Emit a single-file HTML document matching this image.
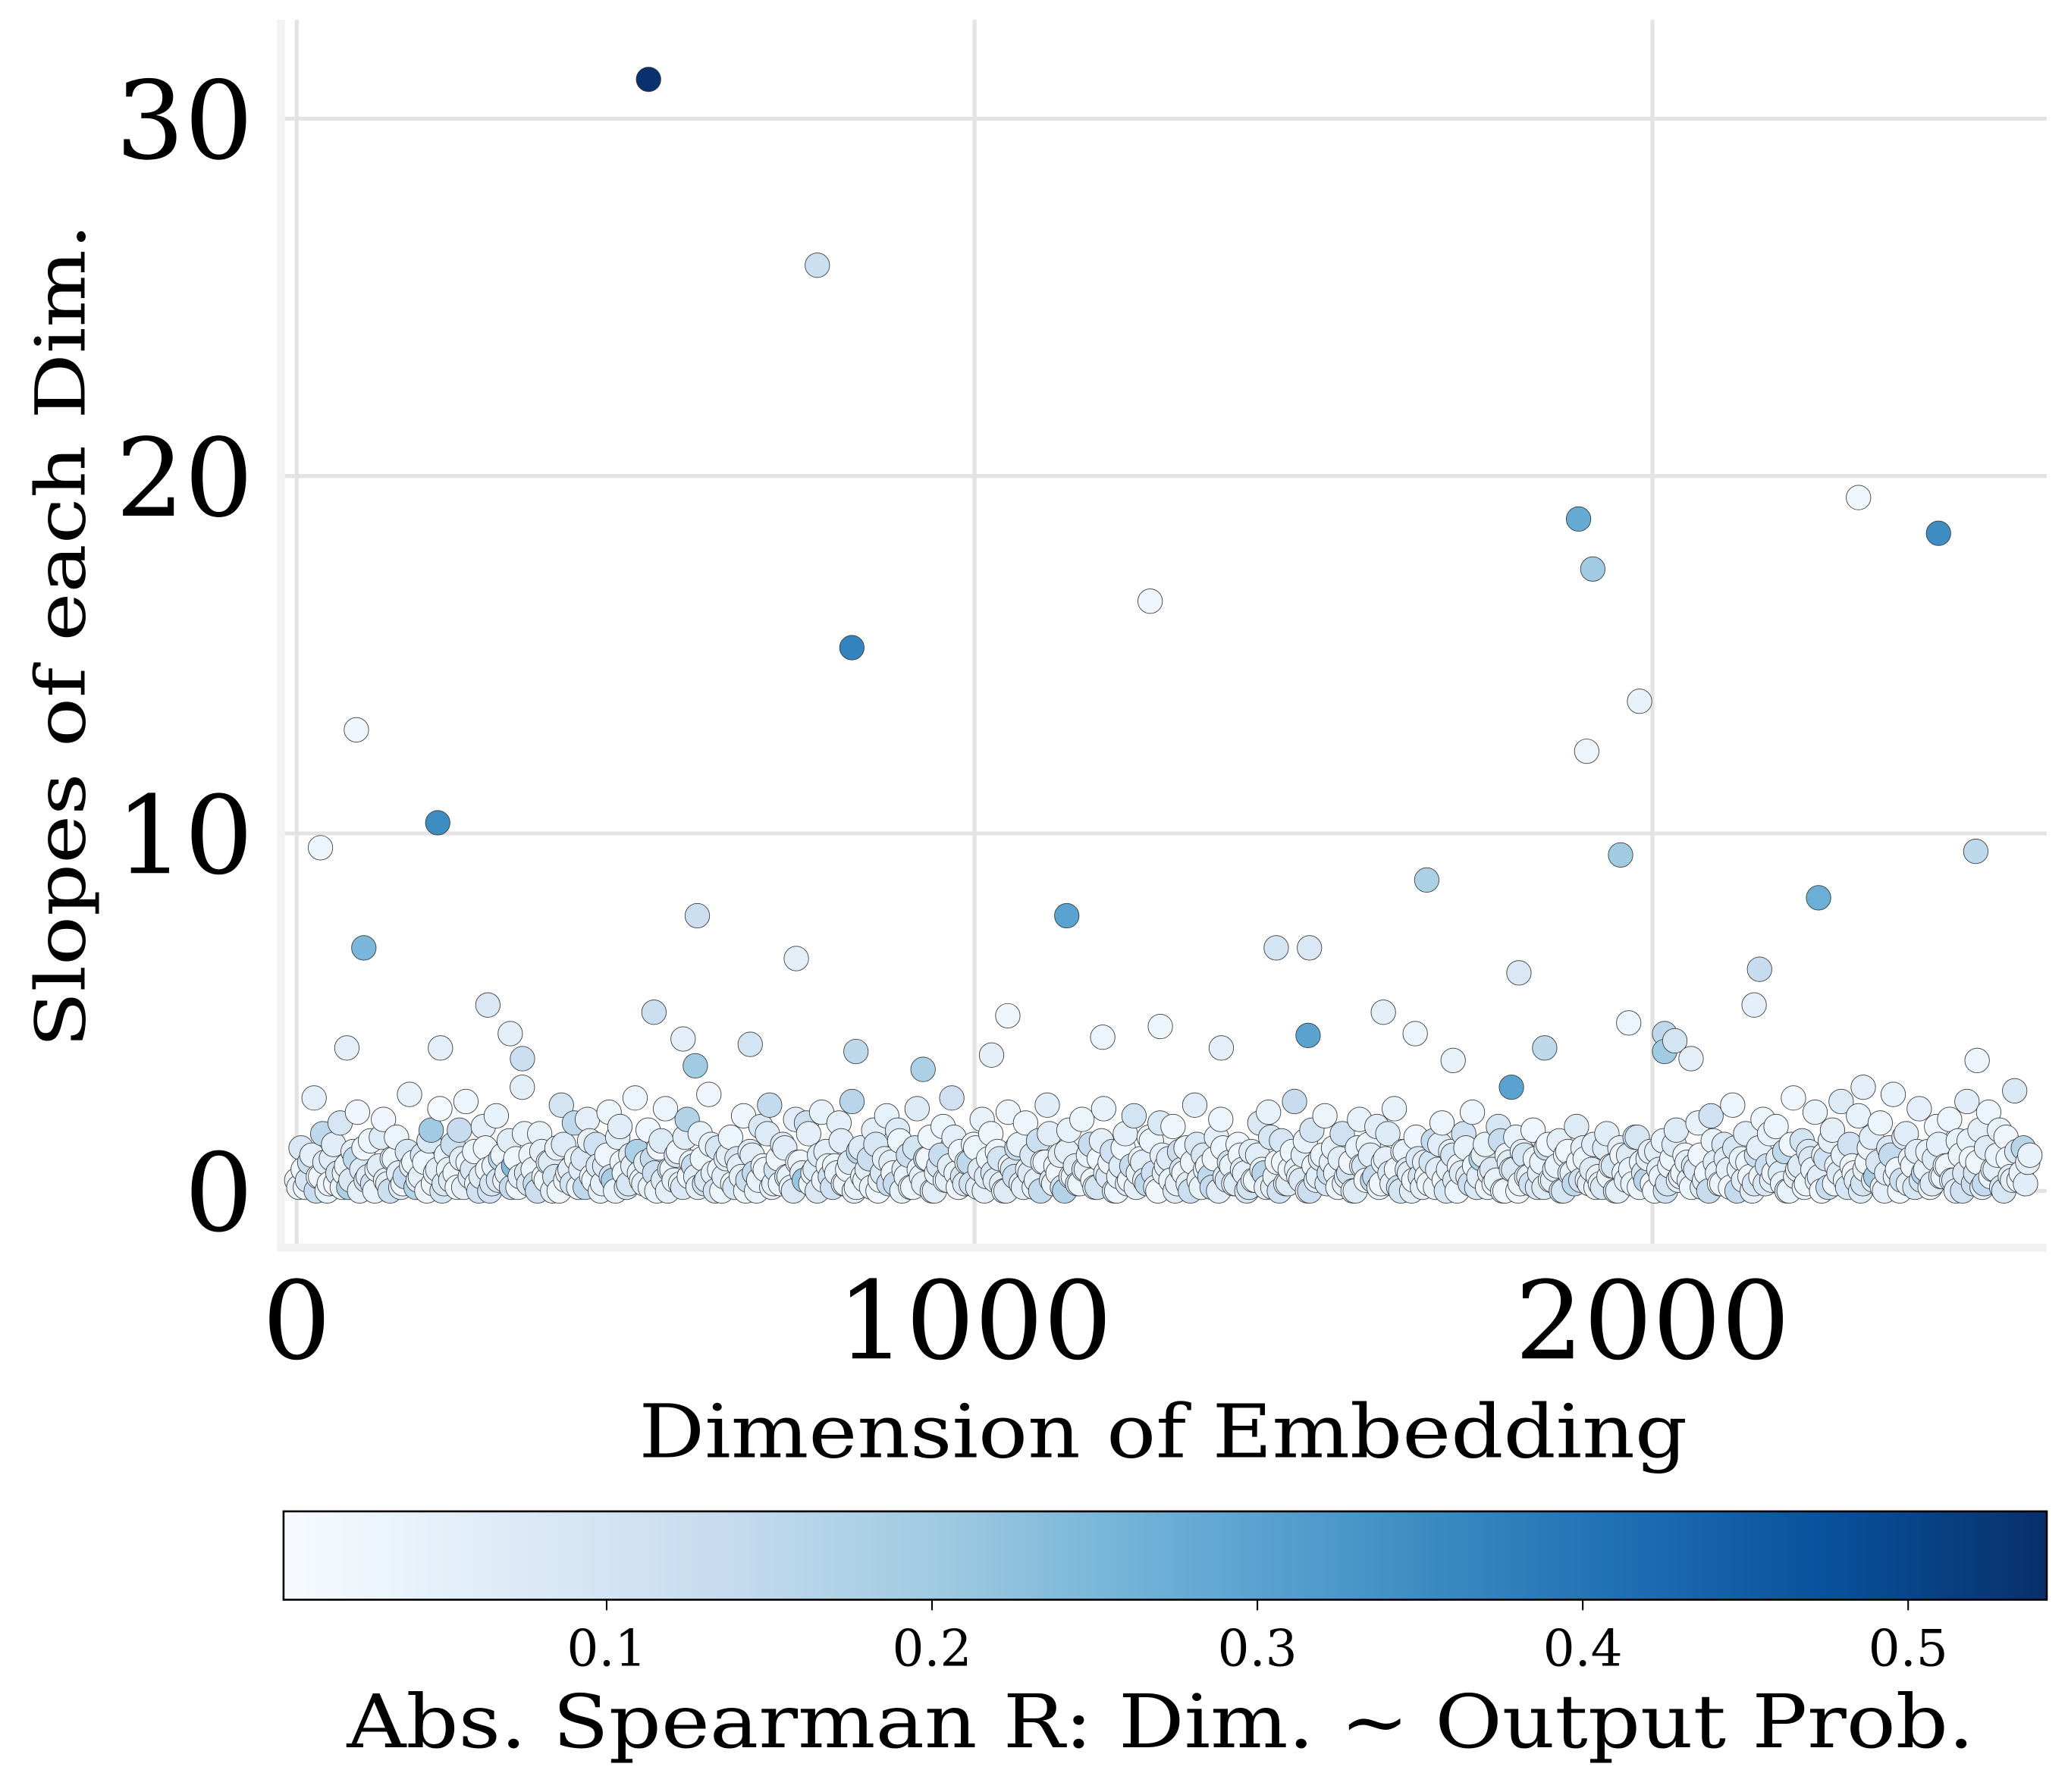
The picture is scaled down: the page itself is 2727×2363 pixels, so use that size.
<!DOCTYPE html>
<html><head><meta charset="utf-8">
<style>
html,body{margin:0;padding:0;background:#fff;}
svg{display:block;}
text{font-family:"DejaVu Serif","Liberation Serif",serif;fill:#000;}
</style></head>
<body>
<svg id="chart" width="2727" height="2363" viewBox="0 0 1568.1 1358.8" xmlns="http://www.w3.org/2000/svg">
<defs>
<linearGradient id="blues" x1="0" x2="1" y1="0" y2="0">
<stop offset="0" stop-color="#f7fbff"/><stop offset="0.125" stop-color="#deebf7"/><stop offset="0.25" stop-color="#c6dbef"/><stop offset="0.375" stop-color="#9ecae1"/><stop offset="0.5" stop-color="#6baed6"/><stop offset="0.625" stop-color="#4292c6"/><stop offset="0.75" stop-color="#2171b5"/><stop offset="0.875" stop-color="#08519c"/><stop offset="1" stop-color="#08306b"/>
</linearGradient>
</defs>
<rect x="0" y="0" width="1568.1" height="1358.8" fill="#fff"/>
<g id="grid"></g>
<rect x="210" y="15" width="6" height="933" fill="#f2f2f2"/>
<rect x="210" y="943" width="1342" height="6" fill="#f2f2f2"/>
<g id="points"></g>
<g id="axes"></g>
<text x="882" y="1105" font-size="56" text-anchor="middle" textLength="795" lengthAdjust="spacingAndGlyphs">Dimension of Embedding</text>
<text transform="translate(64,482) rotate(-90)" font-size="52" text-anchor="middle" textLength="625" lengthAdjust="spacingAndGlyphs">Slopes of each Dim.</text>
<rect x="215" y="1146" width="1337" height="67" fill="url(#blues)" stroke="#000" stroke-width="1.5"/>
<g id="cbticks"></g>
<text x="880" y="1325" font-size="56" text-anchor="middle" textLength="1234" lengthAdjust="spacingAndGlyphs">Abs. Spearman R: Dim. ~ Output Prob.</text>
</svg>
<script>
// ---- data ----
const clusterStep = 6.4;
const clusterSlopes = [
.3,1.2,.1,.8,2.6,.4,1.6,.0,.9,.2,1.9,.5,.1,1.1,2.2,.6,.3,1.4,.0,.7,
2.0,.2,.9,1.5,.1,.4,2.7,.8,.3,1.0,.0,1.7,.5,2.3,.2,.6,1.3,.1,.9,2.5,
.4,1.1,.0,1.8,.6,.2,2.1,.9,.3,1.4,.7,.1,2.9,.5,1.0,.2,1.6,.4,.8,.0,
1.2,2.4,.3,.6,1.9,.1,.9,2.0,.4,1.3,.0,.7,2.2,.3,1.5,.8,.1,1.0,2.6,.5,
.2,1.7,.9,.0,1.4,2.3,.6,.3,1.1,.1,2.0,.8,.4,1.6,.2,2.7,.5,1.2,.0,.9,
1.5,.1,.7,2.1,.3,1.0,.0,1.8,.6,2.4,.2,.9,1.3,.4,.1,2.0,.8,.3,1.6,.5,
.0,2.2,1.1,.4,.7,1.9,.2,.6,2.5,.1,1.2,.3,.9,1.7,.0,.5,2.1,.8,.2,1.4,
.6,1.0,.1,2.3,.4,.9,1.5,.0,.7,1.8,.3,2.6,.5,1.1,.2,.8,1.3,.1,2.0,.4,
1.6,.3,.9,.0,2.2,.6,1.2,.2,1.9,.5,.1,1.4,.8,2.4,.3,.7,1.0,.0,1.7,.4,
.2,2.0,.6,1.3,.1,.9,2.3,.4,1.1,.0,.7,1.6,.3,2.1,.5,.8,.2,1.4,.1,1.9,
.5,.9,1.8,.2,.6,1.2,.0,2.4,.3,1.0,.7,.1,1.5,2.0,.4,.8,.2,1.3,.6,.0,
1.1,.3,1.9,.5,2.2,.1,.8,1.4,.2,.6,2.5,.4,1.0,.0,1.7,.3,.9,2.1,.5,1.2,
.1,1.6,.4,.8,.0,2.0,.7,1.3,.3,1.8,.2,.9,.5,2.3,.1,1.1,.6,.0,1.5,.4,
.8,.2,1.4,.6,1.9,.0,1.1,.3,.7,1.6,.4,2.2,.1,.9,1.3,.5,.2,1.8,.0,1.0,
.6,1.5,.2,1.0,.4,1.7,.1,.8,1.2,.3,.6,1.4,.0,1.1,.5,1.8,.3,.9,.2,1.3,
.4,.1,1.6,.7,.0,1.2,.5,1.0,.2,1.5,.8,.3,1.1,.0,.6,1.4,.2,.9,1.7,.4,
1.0,.3,.7,1.9,.1,.5,2.1,.8,.2,1.3,.6,2.4,.0,.9,1.6,.4,.2,1.2,2.0,.7,
.3,1.8,.5,1.1,.0,2.6,.6,1.4,.2,.9,2.2,.4,1.0,.1,1.7,.7,2.5,.3,1.3,.5,
2.1,.2,.8,1.5,.4,1.9,.0,1.2,2.7,.6,.3,1.6,.9,.1,2.3,.5,1.1,.2,1.8,.4,
.7,2.0,.3,1.4,.0,2.5,.9,.5,1.7,.2,2.2,.6,1.0,.1,1.5,.4,2.8,.3,1.2,.8
];
const clusterR = [
.03,.08,.02,.12,.05,.01,.15,.04,.06,.02,.09,.03,.18,.05,.02,.07,.11,.03,.04,.06,
.02,.05,.10,.03,.07,.14,.04,.02,.06,.09,.03,.20,.05,.01,.08,.04,.12,.02,.06,.03,
.07,.03,.11,.05,.02,.09,.04,.16,.03,.06,.24,.02,.05,.08,.03,.13,.04,.01,.07,.05,
.04,.10,.02,.06,.15,.03,.08,.05,.02,.11,.04,.07,.03,.19,.05,.02,.09,.06,.03,.04,
.06,.02,.13,.04,.07,.03,.10,.05,.02,.08,.17,.03,.06,.04,.11,.02,.05,.09,.03,.07,
.03,.09,.05,.02,.12,.06,.04,.08,.03,.14,.05,.02,.07,.10,.04,.06,.03,.21,.05,.02,
.08,.04,.06,.11,.03,.05,.09,.02,.16,.04,.07,.03,.12,.05,.02,.08,.04,.06,.13,.03,
.05,.12,.03,.07,.04,.18,.02,.06,.09,.03,.05,.11,.04,.02,.08,.15,.03,.06,.04,.07,
.02,.06,.10,.04,.03,.08,.14,.05,.02,.07,.04,.12,.03,.06,.09,.02,.05,.17,.04,.03,
.09,.03,.05,.13,.06,.02,.04,.08,.11,.03,.07,.05,.02,.10,.04,.06,.15,.03,.05,.08,
.04,.07,.02,.05,.10,.03,.12,.06,.04,.08,.02,.14,.05,.03,.07,.11,.04,.02,.06,.09,
.06,.03,.08,.16,.04,.05,.02,.09,.07,.03,.13,.04,.06,.02,.10,.05,.08,.03,.12,.04,
.03,.11,.05,.02,.07,.04,.09,.03,.15,.06,.02,.05,.08,.04,.12,.03,.07,.06,.02,.10,
.05,.02,.14,.06,.03,.09,.04,.07,.02,.11,.05,.03,.08,.18,.04,.06,.02,.09,.05,.03,
.07,.04,.03,.10,.05,.02,.08,.04,.13,.03,.06,.05,.09,.02,.04,.07,.11,.03,.05,.06,
.04,.08,.06,.03,.12,.05,.02,.07,.04,.09,.03,.16,.05,.02,.06,.04,.10,.03,.07,.05,
.02,.05,.09,.04,.07,.03,.11,.06,.02,.08,.05,.03,.14,.04,.06,.02,.09,.05,.03,.12,
.06,.03,.07,.15,.04,.02,.05,.10,.03,.08,.04,.06,.02,.13,.05,.03,.07,.04,.11,.02,
.04,.10,.02,.06,.19,.03,.05,.08,.04,.02,.12,.06,.03,.09,.05,.17,.04,.07,.02,.06,
.05,.03,.08,.04,.11,.06,.02,.09,.05,.14,.03,.07,.04,.10,.02,.06,.08,.03,.16,.05
];
const cluster2Offset = 3.2;
const cluster2Slopes = [
.1,.6,.3,1.0,.0,.4,.8,.2,1.3,.5,.1,.7,.3,.9,.0,1.2,.4,.2,.6,1.5,
.3,.0,.9,.5,.2,1.1,.7,.1,.4,.8,1.4,.2,.6,.0,1.0,.3,.5,1.7,.1,.8,
.6,.2,.4,1.2,.0,.7,.3,1.0,.5,.1,.9,.4,1.6,.2,.6,.0,1.1,.3,.8,.4,
.0,1.3,.5,.2,.9,.6,.1,1.4,.3,.7,.2,1.0,.4,.0,1.8,.5,.2,.7,1.1,.3,
.8,.1,.5,1.2,.3,.0,.6,1.0,.2,1.5,.4,.7,.1,.9,.3,1.3,.0,.6,.4,1.0,
.2,.9,.4,.0,1.1,.5,.3,.7,1.6,.1,.6,.2,1.2,.4,.0,.8,.5,1.9,.2,.6,
1.0,.3,.7,.1,.5,1.4,.2,.8,.0,1.1,.4,.6,.1,1.3,.3,.9,.2,.5,1.7,.0,
.4,.1,1.2,.6,.2,.9,.0,.5,1.0,.3,.7,1.5,.1,.4,.8,.2,1.2,.6,.0,.9,
.5,1.1,.2,.0,.7,.4,1.3,.1,.6,1.0,.3,.0,.8,1.6,.2,.5,.1,1.1,.4,.7,
.2,.6,1.0,.3,.1,1.4,.5,.8,.0,.4,1.2,.2,.7,.1,.9,.3,1.5,.5,.0,1.0,
.7,.3,.0,1.1,.5,.2,.8,1.3,.1,.6,.4,.9,.0,1.2,.3,.7,.2,1.0,.5,.1,
.3,1.0,.6,.1,1.5,.4,.0,.8,.2,1.1,.6,.3,1.4,.0,.7,.4,1.0,.2,.8,.5,
.9,.2,.5,.0,1.2,.7,.3,1.0,.4,.1,.8,1.6,.2,.6,.0,1.1,.5,.3,.9,.1,
.4,.8,.1,1.3,.3,.6,1.0,.0,.5,1.2,.2,.7,.4,1.0,.1,.6,.3,1.4,.0,.8,
.6,.0,1.1,.4,.2,.9,.5,.1,1.3,.3,.7,.0,1.0,.5,.2,.8,1.2,.3,.6,.1,
.2,1.2,.4,.7,.0,1.0,.3,.6,1.5,.1,.5,.9,.2,1.1,.4,.0,.7,1.3,.3,.5,
.8,.1,.6,1.0,.3,.0,1.4,.5,.2,.9,.1,1.2,.6,.3,.8,.0,1.0,.4,.2,1.6,
.5,.9,.2,.0,1.3,.4,.7,.1,1.1,.6,.3,.0,.9,1.4,.2,.5,1.0,.1,.7,.3,
.0,.6,1.2,.3,.8,.1,.5,1.0,.4,.0,1.5,.2,.7,1.1,.3,.6,.1,.9,1.3,.4,
.7,.3,.0,1.0,.5,1.4,.2,.8,.1,1.2,.4,.6,1.7,.0,.9,.3,1.1,.5,.2,1.0
];
const cluster2R = [
.04,.02,.09,.05,.13,.03,.07,.02,.06,.10,.04,.03,.08,.15,.05,.02,.06,.11,.03,.07,
.05,.12,.03,.06,.02,.09,.04,.17,.05,.03,.08,.02,.06,.10,.04,.07,.03,.13,.05,.02,
.08,.03,.06,.02,.11,.04,.09,.03,.05,.14,.02,.06,.04,.08,.03,.12,.05,.02,.07,.10,
.03,.07,.04,.10,.02,.06,.15,.04,.03,.08,.05,.02,.11,.04,.06,.03,.09,.05,.18,.02,
.06,.04,.12,.02,.07,.05,.03,.09,.04,.06,.02,.13,.05,.03,.08,.04,.10,.02,.06,.05,
.02,.09,.05,.03,.06,.14,.04,.02,.07,.05,.11,.03,.06,.04,.08,.02,.05,.12,.03,.07,
.07,.03,.02,.11,.04,.06,.03,.08,.05,.16,.02,.06,.04,.09,.03,.05,.12,.02,.07,.04,
.04,.06,.10,.03,.05,.02,.08,.04,.13,.03,.06,.05,.02,.09,.04,.11,.03,.07,.05,.02,
.09,.02,.05,.07,.03,.12,.04,.06,.02,.08,.05,.14,.03,.06,.04,.02,.10,.05,.03,.07,
.03,.08,.04,.02,.10,.05,.06,.03,.09,.04,.02,.07,.13,.05,.03,.06,.04,.11,.02,.05,
.05,.04,.07,.12,.02,.06,.03,.08,.04,.05,.15,.02,.06,.03,.09,.04,.07,.02,.05,.10,
.02,.06,.03,.05,.09,.04,.11,.02,.07,.03,.05,.08,.04,.12,.02,.06,.03,.09,.05,.04,
.06,.05,.11,.03,.04,.08,.02,.06,.14,.04,.03,.07,.05,.02,.10,.04,.06,.03,.08,.05,
.03,.10,.04,.06,.02,.05,.09,.03,.07,.04,.12,.02,.06,.05,.03,.08,.04,.13,.02,.06,
.08,.02,.05,.04,.11,.03,.06,.07,.02,.05,.04,.10,.03,.06,.15,.02,.05,.04,.07,.03,
.04,.07,.03,.09,.05,.02,.06,.04,.10,.03,.08,.05,.02,.06,.04,.11,.03,.07,.05,.02,
.05,.03,.08,.02,.06,.13,.04,.05,.03,.07,.02,.09,.04,.06,.03,.05,.12,.02,.08,.04,
.03,.06,.04,.10,.02,.05,.07,.03,.08,.04,.06,.02,.11,.05,.03,.07,.04,.09,.02,.06,
.07,.04,.02,.05,.09,.03,.06,.14,.04,.02,.08,.05,.03,.06,.10,.04,.02,.07,.05,.03,
.02,.05,.06,.03,.08,.04,.12,.02,.05,.07,.03,.06,.04,.09,.02,.05,.08,.03,.06,.04
];
const outlierDims   = [519,768,819,1259,88,35,208,99,591,737,1136,1891,1912,2304,2422,1981,1903,1953,2477,1667,2245,1445,1494,1803,2158,2150,1603,1492,1650,1274,1189,1049,1025,1364,1965,1841,2018,2033,2057,2018,282,315,333,74,212,527,570,588,669,825,924,1792,1706,2479,2311];
const outlierSlopes = [31.1,25.9,15.2,16.5,12.9,9.6,10.3,6.8,7.7,6.5,7.7,18.8,17.4,19.4,18.4,13.7,12.3,9.4,9.5,8.7,8.2,6.8,6.8,6.1,6.2,5.2,5.0,4.35,4.4,4.6,4.3,4.9,3.8,4.0,4.7,4.0,4.4,4.2,3.7,3.9,5.2,4.4,3.7,4.0,4.0,5.0,4.25,3.5,4.1,3.9,3.4,2.9,3.65,3.65,2.9];
const outlierR      = [0.54,0.12,0.37,0.02,0.02,0.03,0.35,0.25,0.12,0.05,0.30,0.28,0.20,0.02,0.35,0.04,0.03,0.20,0.15,0.18,0.27,0.10,0.08,0.08,0.13,0.05,0.05,0.30,0.03,0.03,0.03,0.02,0.05,0.05,0.03,0.15,0.15,0.10,0.05,0.20,0.08,0.05,0.12,0.05,0.05,0.12,0.05,0.20,0.10,0.15,0.18,0.30,0.04,0.03,0.05];
const xTicks = [0,1000,2000];
const xTickLabels = ["0","1000","2000"];
const yTicks = [0,10,20,30];
const yTickLabels = ["0","10","20","30"];
const cbTicks = [0.1,0.2,0.3,0.4,0.5];
const cbTickLabels = ["0.1","0.2","0.3","0.4","0.5"];

// ---- scales ----
const NS = "http://www.w3.org/2000/svg";
const xs = d => 225 + d * 0.514;
const ys = v => 903 - v * 27.1;
const vmin = 0.0007, vmax = 0.5426;
const cbx = r => 215 + (r - vmin) / (vmax - vmin) * 1337;
const stops = [[247,251,255],[222,235,247],[198,219,239],[158,202,225],[107,174,214],[66,146,198],[33,113,181],[8,81,156],[8,48,107]];
function cmap(r){
  let t = Math.max(0, Math.min(1, (r - vmin) / (vmax - vmin))) * 8;
  const i = Math.min(7, Math.floor(t)), f = t - i;
  const c = stops[i].map((a,k)=>Math.round(a + (stops[i+1][k]-a)*f));
  return "rgb(" + c.join(",") + ")";
}
function mk(tag, attrs, parent){
  const e = document.createElementNS(NS, tag);
  for (const k in attrs) e.setAttribute(k, attrs[k]);
  parent.appendChild(e);
  return e;
}
const grid = document.getElementById("grid");
const axes = document.getElementById("axes");
const pts = document.getElementById("points");
const cbg = document.getElementById("cbticks");

xTicks.forEach((t,i)=>{
  const l = mk("line",{x1:xs(t),x2:xs(t),y1:15,y2:945,stroke:"#e3e3e3","stroke-width":3},grid);
  
  
  const tx = mk("text",{x:xs(t),y:1030,"font-size":82,"text-anchor":"middle"},axes);
  tx.textContent = xTickLabels[i];
  
  
});
yTicks.forEach((t,i)=>{
  const l = mk("line",{x1:213,x2:1552,y1:ys(t),y2:ys(t),stroke:"#e3e3e3","stroke-width":3},grid);
  
  
  const tx = mk("text",{x:192,y:ys(t)+30,"font-size":82,"text-anchor":"end"},axes);
  tx.textContent = yTickLabels[i];
  
  
});

function dot(d, v, r){
  const c = mk("circle",{cx:xs(d),cy:ys(v),r:9.3,fill:cmap(r),stroke:"#3a3a3a","stroke-width":0.5},pts);
  
  
}
const all = [];
clusterSlopes.forEach((v,i)=>all.push([i*clusterStep, v, clusterR[i]]));
cluster2Slopes.forEach((v,i)=>all.push([i*clusterStep + cluster2Offset, v, cluster2R[i]]));
outlierDims.forEach((d,i)=>all.push([d, outlierSlopes[i], outlierR[i]]));
all.sort((a,b)=>a[0]-b[0]);
all.forEach(p=>dot(p[0],p[1],p[2]));

cbTicks.forEach((t,i)=>{
  const l = mk("line",{x1:cbx(t),x2:cbx(t),y1:1213,y2:1221,stroke:"#000","stroke-width":1.2},cbg);
  
  
  const tx = mk("text",{x:cbx(t),y:1263,"font-size":38,"text-anchor":"middle"},cbg);
  tx.textContent = cbTickLabels[i];
  
  
});
</script>
</body></html>
